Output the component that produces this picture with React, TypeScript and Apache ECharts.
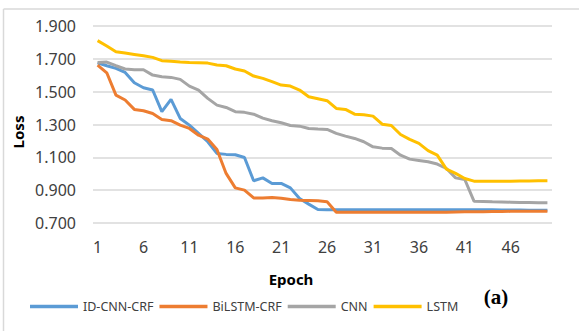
import React, { useEffect, useRef } from "react";
import * as echarts from "echarts";

const epochs: string[] = Array.from({ length: 50 }, (_, i) => String(i + 1));

const idCnnCrf = [
  1.676, 1.658, 1.642, 1.617, 1.554, 1.524, 1.51, 1.378, 1.453, 1.337,
  1.296, 1.246, 1.195, 1.124, 1.118, 1.116, 1.099, 0.957, 0.975, 0.941,
  0.941, 0.914, 0.849, 0.815, 0.782, 0.78, 0.78, 0.78, 0.78, 0.78,
  0.78, 0.78, 0.78, 0.78, 0.78, 0.78, 0.78, 0.78, 0.78, 0.78,
  0.78, 0.78, 0.78, 0.78, 0.779, 0.779, 0.779, 0.778, 0.778, 0.778,
];

const biLstmCrf = [
  1.662, 1.615, 1.479, 1.449, 1.392, 1.384, 1.367, 1.331, 1.323, 1.296,
  1.276, 1.235, 1.211, 1.148, 1.002, 0.914, 0.9, 0.853, 0.853, 0.855,
  0.851, 0.843, 0.839, 0.837, 0.835, 0.829, 0.766, 0.766, 0.766, 0.766,
  0.766, 0.766, 0.766, 0.766, 0.766, 0.766, 0.766, 0.766, 0.766, 0.767,
  0.768, 0.769, 0.769, 0.77, 0.77, 0.771, 0.771, 0.772, 0.772, 0.772,
];

const cnn = [
  1.678, 1.68, 1.658, 1.638, 1.634, 1.634, 1.601, 1.591, 1.587, 1.575,
  1.534, 1.51, 1.459, 1.418, 1.404, 1.378, 1.374, 1.363, 1.339, 1.323,
  1.311, 1.294, 1.29, 1.276, 1.272, 1.27, 1.246, 1.229, 1.215, 1.195,
  1.164, 1.156, 1.154, 1.113, 1.089, 1.081, 1.073, 1.059, 1.032, 0.975,
  0.965, 0.833, 0.831, 0.829, 0.828, 0.827, 0.825, 0.825, 0.823, 0.823,
];

const lstm = [
  1.811, 1.778, 1.743, 1.735, 1.727, 1.719, 1.709, 1.689, 1.685, 1.681,
  1.678, 1.676, 1.674, 1.662, 1.658, 1.638, 1.626, 1.595, 1.581, 1.561,
  1.54, 1.534, 1.51, 1.469, 1.457, 1.445, 1.398, 1.392, 1.363, 1.359,
  1.351, 1.302, 1.294, 1.239, 1.209, 1.185, 1.141, 1.113, 1.028, 1.002,
  0.971, 0.955, 0.955, 0.955, 0.955, 0.955, 0.956, 0.956, 0.957, 0.957,
];

const seriesNames = ["ID-CNN-CRF", "BiLSTM-CRF", "CNN", "LSTM"];
const seriesColors = ["#5B9BD5", "#ED7D31", "#A5A5A5", "#FFC000"];
const seriesData = [idCnnCrf, biLstmCrf, cnn, lstm];

const Y_MIN = 0.7;
const Y_MAX = 1.9;
const Y_STEP = 0.2;

export default function App() {
  const ref = useRef<HTMLDivElement>(null);

  useEffect(() => {
    if (!ref.current) return;
    const chart = echarts.init(ref.current, undefined, { renderer: "svg" });
    const font = "'Noto Sans', 'Open Sans', sans-serif";
    chart.setOption({
      animation: false,
      backgroundColor: "#ffffff",
      grid: { left: 93, right: 27, top: 26, bottom: 108, containLabel: false },
      xAxis: {
        type: "category",
        data: epochs,
        boundaryGap: true,
        axisLine: { show: false },
        axisTick: { show: false },
        axisLabel: {
          interval: 4,
          margin: 16,
          fontSize: 16,
          color: "#404040",
          fontFamily: font,
        },
        splitLine: { show: false },
      },
      yAxis: {
        type: "value",
        min: 0,
        max: +(Y_MAX - Y_MIN).toFixed(3),
        interval: Y_STEP,
        axisLine: { show: false },
        axisTick: { show: false },
        axisLabel: {
          margin: 17,
          fontSize: 16,
          color: "#404040",
          fontFamily: font,
          formatter: (v: number) => (v + Y_MIN).toFixed(3),
        },
        splitLine: { lineStyle: { color: "#D9D9D9", width: 1.5 } },
      },
      legend: {
        left: 30,
        top: 300,
        padding: 0,
        icon: "rect",
        itemWidth: 48,
        itemHeight: 3.5,
        itemGap: 6,
        textStyle: { fontSize: 12.5, color: "#404040", fontFamily: font },
        data: seriesNames,
      },
      series: seriesNames.map((name, i) => ({
        name,
        type: "line",
        data: seriesData[i].map((v) => +(v - Y_MIN).toFixed(4)),
        showSymbol: false,
        symbol: "none",
        lineStyle: { color: seriesColors[i], width: 3 },
        itemStyle: { color: seriesColors[i] },
      })),
      graphic: [
        {
          type: "line",
          shape: { x1: 3.5, y1: 9, x2: 579, y2: 9 },
          style: { stroke: "#D9D9D9", lineWidth: 1.5 },
        },
        {
          type: "line",
          shape: { x1: 3.5, y1: 9, x2: 3.5, y2: 331 },
          style: { stroke: "#D9D9D9", lineWidth: 1.5 },
        },
        {
          type: "text",
          x: 18,
          y: 132,
          rotation: Math.PI / 2,
          style: {
            text: "Loss",
            fontSize: 15,
            fontWeight: "bold",
            fontFamily: font,
            fill: "#000000",
            align: "center",
            verticalAlign: "middle",
          },
        },
        {
          type: "text",
          x: 291,
          y: 279,
          style: {
            text: "Epoch",
            fontSize: 15,
            fontWeight: "bold",
            fontFamily: font,
            fill: "#000000",
            align: "center",
            verticalAlign: "middle",
          },
        },
        {
          type: "text",
          x: 496,
          y: 297,
          style: {
            text: "(a)",
            fontSize: 21,
            fontWeight: "bold",
            fontFamily: "'Liberation Serif', 'DejaVu Serif', serif",
            fill: "#000000",
            align: "center",
            verticalAlign: "middle",
          },
        },
      ],
    });
    return () => chart.dispose();
  }, []);

  return (
    <div
      ref={ref}
      style={{ position: "fixed", left: 0, top: 0, width: 579, height: 331 }}
    />
  );
}
